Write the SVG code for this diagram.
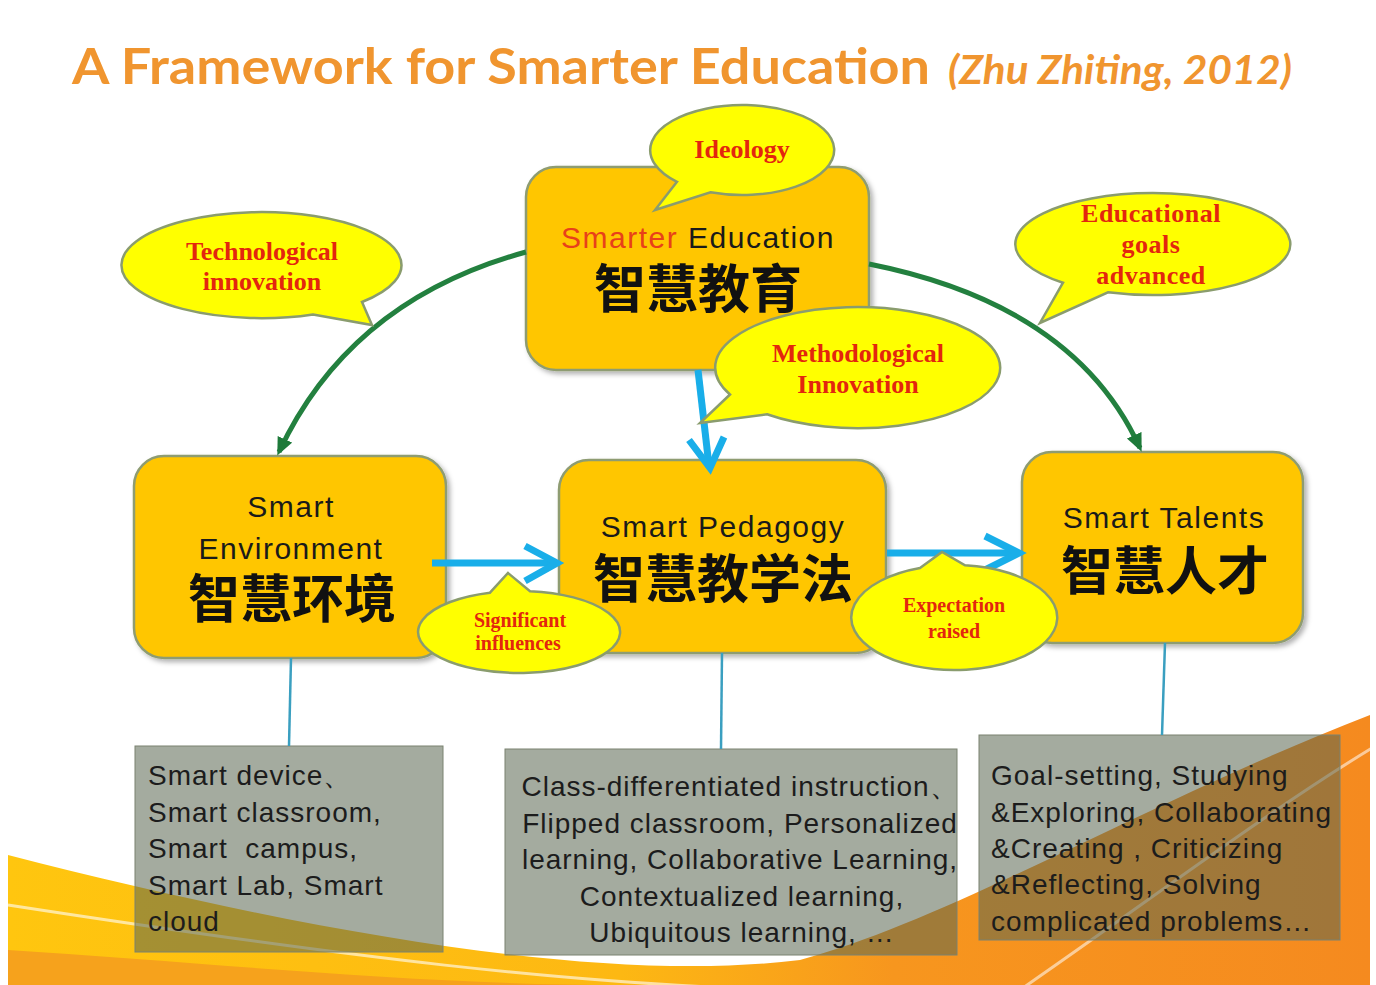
<svg xmlns="http://www.w3.org/2000/svg" width="1376" height="985" viewBox="0 0 1376 985">
<style>
.node{fill:#FFC600;stroke:#8E9C72;stroke-width:2.5}
.en{font-family:"Liberation Sans",Arial,sans-serif;font-size:30px;fill:#1a1a1a;text-anchor:middle;letter-spacing:1.5px}
.cn{font-family:"Noto Sans CJK SC","Noto Sans CJK TC",sans-serif;font-size:52px;font-weight:700;fill:#111;text-anchor:middle}
.bubble{fill:#FFFF00;stroke:#8A9C6E;stroke-width:2.5}
.bt{font-family:"Liberation Serif","Times New Roman",serif;font-weight:700;fill:#E3260E;text-anchor:middle}
.gbox{fill:#5A6650;fill-opacity:0.55;stroke:#7A8270;stroke-width:1}
.gt{font-family:"Liberation Sans",Arial,sans-serif;font-size:28px;fill:#1c1c1c;letter-spacing:1px}
.green{fill:none;stroke:#23803F;stroke-width:5}
.blue{fill:none;stroke:#19AEE9;stroke-width:7;stroke-linejoin:miter}
.thin{fill:none;stroke:#3A9FC0;stroke-width:2.5}
</style>
<defs>
<linearGradient id="sw" x1="0" y1="0" x2="1" y2="0">
<stop offset="0" stop-color="#FFC60F"/>
<stop offset="0.45" stop-color="#FDB813"/>
<stop offset="0.65" stop-color="#F7961E"/>
<stop offset="1" stop-color="#F58A1F"/>
</linearGradient>
<marker id="gh" markerUnits="userSpaceOnUse" markerWidth="20" markerHeight="18" refX="14" refY="8" orient="auto">
<path d="M0,0 L18,8 L0,16 Z" fill="#1E7A3A"/>
</marker>
<filter id="sh" x="-10%" y="-10%" width="125%" height="125%">
<feDropShadow dx="3" dy="3" stdDeviation="2.5" flood-color="#000" flood-opacity="0.3"/>
</filter>
</defs>

<rect x="0" y="0" width="1376" height="985" fill="#FFFFFF"/>

<g id="background-swoosh">
<path d="M 8 855 C 300 930, 600 985, 800 960 C 950 920, 1150 800, 1370 715 L 1370 985 L 8 985 Z" fill="url(#sw)"/>
<path d="M 8 950 C 200 962, 420 985, 620 985 L 8 985 Z" fill="#F6A21C"/>
<path d="M 8 905 C 300 950, 600 992, 850 990" fill="none" stroke="#FFFFFF" stroke-opacity="0.6" stroke-width="3"/>
<path d="M 1020 990 C 1150 900, 1270 810, 1372 748" fill="none" stroke="#FFFFFF" stroke-opacity="0.55" stroke-width="3"/>
</g>

<g id="title">
<text x="72" y="84" font-family="Lato,'Liberation Sans',sans-serif" font-size="50" font-weight="700" fill="#F0952F" textLength="858" lengthAdjust="spacingAndGlyphs">A Framework for Smarter Education</text>
<text x="948" y="84" font-family="Lato,'Liberation Sans',sans-serif" font-size="40" font-weight="700" font-style="italic" fill="#F0952F" textLength="344" lengthAdjust="spacingAndGlyphs">(Zhu Zhiting, 2012)</text>
</g>

<g id="detail-environment">
<rect class="gbox" x="135" y="746" width="308" height="206"/>
<text class="gt" x="148" y="785">Smart device、</text>
<text class="gt" x="148" y="822">Smart classroom,</text>
<text class="gt" x="148" y="858" xml:space="preserve">Smart  campus,</text>
<text class="gt" x="148" y="895">Smart Lab, Smart</text>
<text class="gt" x="148" y="931">cloud</text>
</g>
<g id="detail-pedagogy">
<rect class="gbox" x="505" y="749" width="452" height="206"/>
<text class="gt" x="740" y="796" text-anchor="middle">Class-differentiated instruction、</text>
<text class="gt" x="740" y="833" text-anchor="middle">Flipped classroom, Personalized</text>
<text class="gt" x="740" y="869" text-anchor="middle">learning, Collaborative Learning,</text>
<text class="gt" x="742" y="906" text-anchor="middle">Contextualized learning,</text>
<text class="gt" x="742" y="942" text-anchor="middle">Ubiquitous learning, …</text>
</g>
<g id="detail-talents">
<rect class="gbox" x="979" y="735" width="361" height="205"/>
<text class="gt" x="991" y="785">Goal-setting, Studying</text>
<text class="gt" x="991" y="822">&amp;Exploring, Collaborating</text>
<text class="gt" x="991" y="858">&amp;Creating , Criticizing</text>
<text class="gt" x="991" y="894">&amp;Reflecting, Solving</text>
<text class="gt" x="991" y="931">complicated problems…</text>
</g>

<g id="node-smarter-education">
<rect class="node" x="526" y="167" width="343" height="203" rx="30" filter="url(#sh)"/>
<text class="en" x="698" y="248"><tspan fill="#E8401A">Smarter</tspan> Education</text>
<text class="cn" x="698" y="308">智慧教育</text>
</g>
<g id="node-smart-environment">
<rect class="node" x="134" y="456" width="312" height="202" rx="30" filter="url(#sh)"/>
<text class="en" x="291" y="517">Smart</text>
<text class="en" x="291" y="559">Environment</text>
<text class="cn" x="292" y="618">智慧环境</text>
</g>
<g id="node-smart-pedagogy">
<rect class="node" x="559" y="460" width="327" height="193" rx="30" filter="url(#sh)"/>
<text class="en" x="723" y="537">Smart Pedagogy</text>
<text class="cn" x="723" y="598">智慧教学法</text>
</g>
<g id="node-smart-talents">
<rect class="node" x="1022" y="452" width="281" height="191" rx="30" filter="url(#sh)"/>
<text class="en" x="1164" y="528">Smart Talents</text>
<text class="cn" x="1165" y="590">智慧人才</text>
</g>

<g id="connectors">
<path class="green" d="M 526 252 Q 350 300 279 452" marker-end="url(#gh)"/>
<path class="green" d="M 869 264 Q 1075 305 1140 448" marker-end="url(#gh)"/>
<path class="blue" d="M 698 370 L 709 466"/>
<polyline class="blue" points="689,440 710,468 724,437"/>
<path class="blue" d="M 432 563 L 554 563" stroke-width="8"/>
<polyline class="blue" points="525,546 557,563 525,581" stroke-width="8"/>
<path class="blue" d="M 887 553 L 1016 553" stroke-width="8"/>
<polyline class="blue" points="985,536 1019,553 985,570" stroke-width="8"/>
<path class="thin" d="M 291 658 L 289 746"/>
<path class="thin" d="M 722 653 L 721 749"/>
<path class="thin" d="M 1165 643 L 1162 735"/>
</g>

<g id="callout-ideology">
<path class="bubble" d="M 677 181.8 L 655 210 L 710.5 192.3 A 92 45 0 1 0 677 181.8 Z"/>
<text class="bt" x="742" y="158" font-size="26">Ideology</text>
</g>
<g id="callout-technological">
<path class="bubble" d="M 313 314.4 L 372 325 L 362 302 A 140 53 0 1 0 313 314.4 Z"/>
<text class="bt" x="262" y="260" font-size="26">Technological</text>
<text class="bt" x="262" y="290" font-size="26">innovation</text>
</g>
<g id="callout-educational-goals">
<path class="bubble" d="M 1063 282.7 L 1040 323 L 1108 292.3 A 137.5 51 0 1 0 1063 282.7 Z"/>
<text class="bt" x="1151" y="222" font-size="26" letter-spacing="0.5">Educational</text>
<text class="bt" x="1151" y="253" font-size="26" letter-spacing="0.5">goals</text>
<text class="bt" x="1151" y="284" font-size="26" letter-spacing="0.5">advanced</text>
</g>
<g id="callout-methodological">
<path class="bubble" d="M 730 394.5 L 700 423 L 767 414.3 A 142.5 60.5 0 1 0 730 394.5 Z"/>
<text class="bt" x="858" y="362" font-size="26">Methodological</text>
<text class="bt" x="858" y="393" font-size="26">Innovation</text>
</g>
<g id="callout-significant">
<path class="bubble" d="M 490 592.7 L 508 573 L 530 591.2 A 101 41 0 1 1 490 592.7 Z"/>
<text class="bt" x="520" y="627" font-size="20">Significant</text>
<text class="bt" x="518" y="650" font-size="20">influences</text>
</g>
<g id="callout-expectation">
<path class="bubble" d="M 920 568 L 942 552 L 965 565.3 A 103 52.5 0 1 1 920 568 Z"/>
<text class="bt" x="954" y="612" font-size="20">Expectation</text>
<text class="bt" x="954" y="638" font-size="20">raised</text>
</g>
</svg>
